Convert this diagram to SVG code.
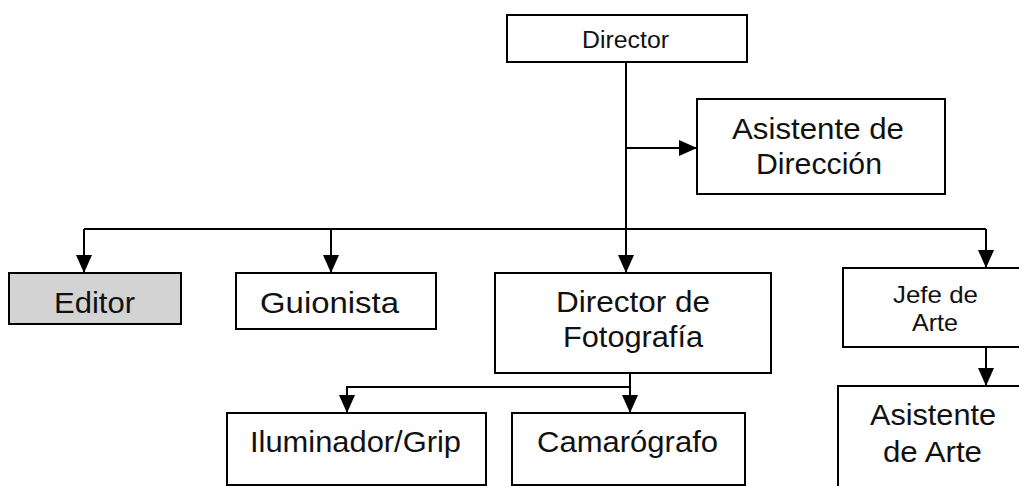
<svg xmlns="http://www.w3.org/2000/svg" width="1019" height="486" viewBox="0 0 1019 486">
<defs>
<marker id="arr" markerUnits="userSpaceOnUse" markerWidth="18" markerHeight="16" refX="18" refY="8" orient="auto" viewBox="0 0 18 16">
<path d="M0,0 L18,8 L0,16 z" fill="#000"/>
</marker>
<style>
.box{fill:#fff;stroke:#000;stroke-width:2}
.gray{fill:#d3d3d3}
.t{font-family:"Liberation Sans",Arial,sans-serif;font-size:29px;fill:#111;text-anchor:middle}
.s{font-size:23px}
.c{fill:none;stroke:#000;stroke-width:2}
.a{marker-end:url(#arr)}
</style>
</defs>
<rect width="1019" height="486" fill="#fff"/>
<g id="connectors">
<path class="c a" d="M626,62 V273"/>
<path class="c a" d="M626,148 H697"/>
<path class="c" d="M84,229 H986"/>
<path class="c a" d="M84,229 V273"/>
<path class="c a" d="M331,229 V273"/>
<path class="c a" d="M986,229 V268"/>
<path class="c a" d="M986,347 V386"/>
<path class="c a" d="M630,373 V387 H347 V413"/>
<path class="c a" d="M630,387 V413"/>
</g>
<g id="director">
<rect class="box" x="507" y="15" width="240" height="47"/>
<text class="t s" x="625.5" y="48" textLength="87" lengthAdjust="spacingAndGlyphs">Director</text>
</g>
<g id="asistente-direccion">
<rect class="box" x="697" y="99" width="248" height="95"/>
<text class="t" x="818" y="139" textLength="172" lengthAdjust="spacingAndGlyphs">Asistente de</text>
<text class="t" x="819" y="174" textLength="126" lengthAdjust="spacingAndGlyphs">Dirección</text>
</g>
<g id="editor">
<rect class="box gray" x="9" y="273" width="172" height="51"/>
<text class="t" x="94.5" y="313" textLength="81" lengthAdjust="spacingAndGlyphs">Editor</text>
</g>
<g id="guionista">
<rect class="box" x="236" y="273" width="200" height="56"/>
<text class="t" x="329.5" y="313" textLength="139" lengthAdjust="spacingAndGlyphs">Guionista</text>
</g>
<g id="director-fotografia">
<rect class="box" x="495" y="273" width="276" height="100"/>
<text class="t" x="633" y="312" textLength="154" lengthAdjust="spacingAndGlyphs">Director de</text>
<text class="t" x="633" y="347" textLength="140" lengthAdjust="spacingAndGlyphs">Fotografía</text>
</g>
<g id="jefe-arte">
<rect class="box" x="843" y="268" width="190" height="79"/>
<text class="t" x="935.5" y="303" style="font-size:24px" textLength="85" lengthAdjust="spacingAndGlyphs">Jefe de</text>
<text class="t" x="935" y="331" style="font-size:24px" textLength="46" lengthAdjust="spacingAndGlyphs">Arte</text>
</g>
<g id="asistente-arte">
<rect class="box" x="838" y="386" width="195" height="110"/>
<text class="t" x="933" y="425" textLength="126" lengthAdjust="spacingAndGlyphs">Asistente</text>
<text class="t" x="932.5" y="462" textLength="99" lengthAdjust="spacingAndGlyphs">de Arte</text>
</g>
<g id="iluminador">
<rect class="box" x="227" y="413" width="259" height="72"/>
<text class="t" x="355.5" y="452" textLength="211" lengthAdjust="spacingAndGlyphs">Iluminador/Grip</text>
</g>
<g id="camarografo">
<rect class="box" x="512" y="413" width="233" height="72"/>
<text class="t" x="627.5" y="452" textLength="181" lengthAdjust="spacingAndGlyphs">Camarógrafo</text>
</g>
</svg>
